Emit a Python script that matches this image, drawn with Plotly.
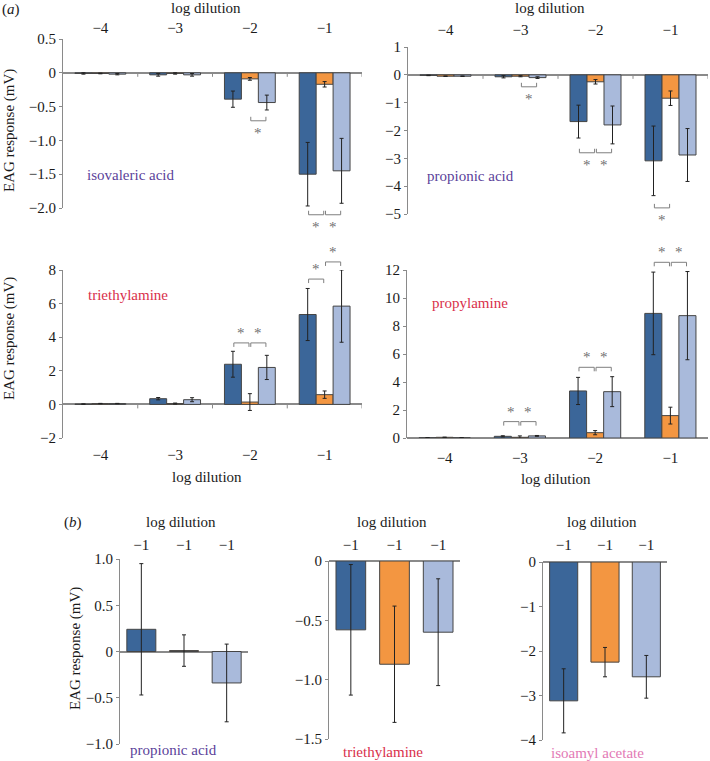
import plotly.graph_objects as go

W, H = 710, 761

# ---------------- data ----------------
dilutions = ["−4", "−3", "−2", "−1"]
b_dilutions = ["−1", "−1", "−1"]
bar_colors = ["#3B6699", "#F39641", "#A9BADB"]

# (a) isovaleric acid
iso_dark = [-0.01, -0.03, -0.39, -1.50]
iso_dark_err = [0.01, 0.02, 0.12, 0.47]
iso_orange = [-0.01, -0.01, -0.09, -0.17]
iso_orange_err = [0.005, 0.01, 0.02, 0.04]
iso_light = [-0.02, -0.03, -0.44, -1.45]
iso_light_err = [0.01, 0.02, 0.11, 0.48]

# (a) propionic acid
prop_dark = [-0.02, -0.07, -1.68, -3.09]
prop_dark_err = [0.01, 0.04, 0.59, 1.25]
prop_orange = [-0.05, -0.05, -0.25, -0.84]
prop_orange_err = [0.01, 0.02, 0.08, 0.26]
prop_light = [-0.05, -0.10, -1.80, -2.88]
prop_light_err = [0.01, 0.03, 0.68, 0.95]

# (a) triethylamine
tea_dark = [0.02, 0.34, 2.39, 5.35]
tea_dark_err = [0.01, 0.07, 0.77, 1.55]
tea_orange = [0.05, 0.05, 0.14, 0.58]
tea_orange_err = [0.01, 0.03, 0.50, 0.22]
tea_light = [0.05, 0.28, 2.20, 5.85]
tea_light_err = [0.01, 0.12, 0.72, 2.15]

# (a) propylamine
pa_dark = [0.02, 0.12, 3.36, 8.90]
pa_dark_err = [0.01, 0.04, 0.97, 2.95]
pa_orange = [0.05, 0.05, 0.38, 1.60]
pa_orange_err = [0.01, 0.10, 0.15, 0.60]
pa_light = [0.02, 0.15, 3.31, 8.74]
pa_light_err = [0.01, 0.03, 1.07, 3.15]

# (b)
b_prop = [0.24, 0.01, -0.34]
b_prop_err = [0.71, 0.17, 0.42]
b_tea = [-0.58, -0.87, -0.60]
b_tea_err = [0.55, 0.49, 0.45]
b_iso = [-3.12, -2.25, -2.58]
b_iso_err = [0.72, 0.33, 0.48]

# significance brackets: (group, left bar of pair, level)
iso_sig = [(2, 1, -0.71), (3, 0, -2.10), (3, 1, -2.10)]
prop_sig = [(1, 1, -0.43), (2, 0, -2.80), (2, 1, -2.80), (3, 0, -4.78)]
tea_sig = [(2, 0, 3.66), (2, 1, 3.66), (3, 0, 7.46), (3, 1, 8.48)]
pa_sig = [(1, 0, 1.17), (1, 1, 1.17), (2, 0, 5.05), (2, 1, 5.05), (3, 0, 12.55), (3, 1, 12.55)]

# y ticks
iso_ticks = [-2.0, -1.5, -1.0, -0.5, 0, 0.5]
iso_ticktext = ["−2.0", "−1.5", "−1.0", "−0.5", "0", "0.5"]
prop_ticks = [-5, -4, -3, -2, -1, 0, 1]
prop_ticktext = ["−5", "−4", "−3", "−2", "−1", "0", "1"]
tea_ticks = [-2, 0, 2, 4, 6, 8]
tea_ticktext = ["−2", "0", "2", "4", "6", "8"]
pa_ticks = [0, 2, 4, 6, 8, 10, 12]
pa_ticktext = ["0", "2", "4", "6", "8", "10", "12"]
bprop_ticks = [-1.0, -0.5, 0, 0.5, 1.0]
bprop_ticktext = ["−1.0", "−0.5", "0", "0.5", "1.0"]
btea_ticks = [-1.5, -1.0, -0.5, 0]
btea_ticktext = ["−1.5", "−1.0", "−0.5", "0"]
biso_ticks = [-4, -3, -2, -1, 0]
biso_ticktext = ["−4", "−3", "−2", "−1", "0"]

# ---------------- styling / layout ----------------
FONT = "Liberation Serif, Times New Roman, Times, serif"
TXT = "#1a1a1a"
AX = "#8a8a8a"
SIG = "#7f7f7f"
PURPLE = "#5B3F9A"
RED = "#D9304B"
PINK = "#E37AB5"
BARGAP = 0.32

panels = [
    dict(kind="a", series=[(iso_dark, iso_dark_err), (iso_orange, iso_orange_err), (iso_light, iso_light_err)],
         yr=[-2.0, 0.5], ticks=iso_ticks, ticktext=iso_ticktext, box=(63, 362, 39, 208), side="top", standoff=2,
         sig=iso_sig, label="isovaleric acid", lcol=PURPLE, lpos=(131, 175)),
    dict(kind="a", series=[(prop_dark, prop_dark_err), (prop_orange, prop_orange_err), (prop_light, prop_light_err)],
         yr=[-5, 1], ticks=prop_ticks, ticktext=prop_ticktext, box=(408, 708, 47, 214), side="top", standoff=8,
         sig=prop_sig, label="propionic acid", lcol=PURPLE, lpos=(470, 176)),
    dict(kind="a", series=[(tea_dark, tea_dark_err), (tea_orange, tea_orange_err), (tea_light, tea_light_err)],
         yr=[-2, 8], ticks=tea_ticks, ticktext=tea_ticktext, box=(63, 362, 270, 438), side="bottom", standoff=6,
         sig=tea_sig, label="triethylamine", lcol=RED, lpos=(128, 295)),
    dict(kind="a", series=[(pa_dark, pa_dark_err), (pa_orange, pa_orange_err), (pa_light, pa_light_err)],
         yr=[0, 12], ticks=pa_ticks, ticktext=pa_ticktext, box=(407, 708, 270, 438), side="bottom", standoff=9,
         sig=pa_sig, label="propylamine", lcol=RED, lpos=(470, 303)),
    dict(kind="b", series=(b_prop, b_prop_err),
         yr=[-1, 1], ticks=bprop_ticks, ticktext=bprop_ticktext, box=(120, 248, 559, 744), side="top", standoff=5,
         label="propionic acid", lcol=PURPLE, lpos=(173, 750)),
    dict(kind="b", series=(b_tea, b_tea_err),
         yr=[-1.5, 0], ticks=btea_ticks, ticktext=btea_ticktext, box=(329, 460, 561, 739), side="top", standoff=7,
         label="triethylamine", lcol=RED, lpos=(383, 752)),
    dict(kind="b", series=(b_iso, b_iso_err),
         yr=[-4, 0], ticks=biso_ticks, ticktext=biso_ticktext, box=(543, 667, 562, 740), side="top", standoff=8,
         label="isoamyl acetate", lcol=PINK, lpos=(597, 753)),
]

fig = go.Figure()
layout = {}
annotations = []
shapes = []


def fx(p):
    return p / W


def fy(p):
    return 1 - p / H


for i, p in enumerate(panels, start=1):
    xa = "x" if i == 1 else f"x{i}"
    ya = "y" if i == 1 else f"y{i}"
    xk = "xaxis" if i == 1 else f"xaxis{i}"
    yk = "yaxis" if i == 1 else f"yaxis{i}"
    x0p, x1p, y0p, y1p = p["box"]

    if p["kind"] == "a":
        pos = list(range(len(dilutions)))
        for k, (vals, errs) in enumerate(p["series"]):
            fig.add_trace(go.Bar(
                x=pos, y=vals, xaxis=xa, yaxis=ya, offsetgroup=str(k),
                marker=dict(color=bar_colors[k], line=dict(color="#454545", width=1)),
                error_y=dict(type="data", array=errs, visible=True, color="#222222", thickness=1, width=2),
                showlegend=False,
            ))
        xrange = [-0.5, len(dilutions) - 0.5]
        tickt = dilutions
        # boundary tick marks on the zero line
        for g in pos:
            shapes.append(dict(type="line", xref=xa, yref=ya, x0=g + 0.5, x1=g + 0.5,
                               ysizemode="pixel", yanchor=0, y0=0, y1=-4,
                               line=dict(color=AX, width=1)))
        # significance brackets (axis-domain coordinates so they may sit outside the range)
        bw = (1 - BARGAP) / 3
        ylo, yhi = p["yr"]
        xlo, xhi = xrange
        hpx = y1p - y0p

        def dx(v):
            return (v - xlo) / (xhi - xlo)

        def dy(v):
            return (v - ylo) / (yhi - ylo)

        for (g, k, lvl) in p["sig"]:
            xl = dx(g + (k - 1) * bw + 0.012)
            xr = dx(g + k * bw - 0.012)
            up = lvl > 0
            yb = dy(lvl)
            t = (-4 if up else 4) / hpx
            shapes.append(dict(type="path", xref=f"{xa} domain", yref=f"{ya} domain",
                               path=f"M {xl} {yb + t} L {xl} {yb} L {xr} {yb} L {xr} {yb + t}",
                               line=dict(color=SIG, width=1)))
            annotations.append(dict(x=(xl + xr) / 2, y=yb, xref=f"{xa} domain", yref=f"{ya} domain",
                                    text="*", showarrow=False, xanchor="center", yanchor="middle",
                                    yshift=(10 if up else -12), opacity=0.99,
                                    font=dict(family=FONT, size=15, color="#6f6f6f")))
    else:
        vals, errs = p["series"]
        pos = list(range(len(b_dilutions)))
        fig.add_trace(go.Bar(
            x=pos, y=vals, xaxis=xa, yaxis=ya,
            marker=dict(color=bar_colors, line=dict(color="#454545", width=1)),
            error_y=dict(type="data", array=errs, visible=True, color="#222222", thickness=1, width=2),
            showlegend=False,
        ))
        xrange = [-0.5, len(b_dilutions) - 0.5]
        tickt = b_dilutions

    layout[xk] = dict(
        domain=[fx(x0p), fx(x1p)], anchor=ya, range=xrange, side=p["side"],
        tickvals=list(range(len(tickt))), ticktext=tickt, showline=False, ticks="",
        showgrid=False, zeroline=False, ticklabelstandoff=p["standoff"], automargin=False,
        tickfont=dict(family=FONT, size=15, color=TXT),
    )
    layout[yk] = dict(
        domain=[fy(y1p), fy(y0p)], anchor=xa, range=p["yr"],
        tickvals=p["ticks"], ticktext=p["ticktext"], showline=True, linecolor=AX, linewidth=1,
        ticks="outside", ticklen=3, tickcolor=AX, showgrid=False, automargin=False,
        zeroline=True, zerolinecolor=AX, zerolinewidth=1.5,
        tickfont=dict(family=FONT, size=15, color=TXT),
    )
    annotations.append(dict(x=fx(p["lpos"][0]), y=fy(p["lpos"][1]), xref="paper", yref="paper",
                            text=p["label"], showarrow=False, xanchor="center", yanchor="middle",
                            font=dict(family=FONT, size=15, color=p["lcol"])))

# axis titles
for (xp, yp) in [(206, 8), (550, 8), (207, 477), (556, 479), (181, 522), (392, 522), (602, 522)]:
    annotations.append(dict(x=fx(xp), y=fy(yp), xref="paper", yref="paper", text="log dilution",
                            showarrow=False, xanchor="center", yanchor="middle",
                            font=dict(family=FONT, size=15, color=TXT)))
for (xp, yp) in [(9, 131), (9, 339), (75, 649)]:
    annotations.append(dict(x=fx(xp), y=fy(yp), xref="paper", yref="paper", text="EAG response (mV)",
                            showarrow=False, textangle=-90, xanchor="center", yanchor="middle",
                            font=dict(family=FONT, size=15, color=TXT)))
annotations.append(dict(x=fx(11), y=fy(9), xref="paper", yref="paper", text="(<i>a</i>)", showarrow=False,
                        xanchor="center", yanchor="middle", font=dict(family=FONT, size=15, color=TXT)))
annotations.append(dict(x=fx(73), y=fy(522), xref="paper", yref="paper", text="(<i>b</i>)", showarrow=False,
                        xanchor="center", yanchor="middle", font=dict(family=FONT, size=15, color=TXT)))

fig.update_layout(
    width=W, height=H, autosize=False,
    margin=dict(l=0, r=0, t=0, b=0, autoexpand=False),
    paper_bgcolor="white", plot_bgcolor="white",
    barmode="group", bargap=BARGAP, bargroupgap=0,
    showlegend=False,
    font=dict(family=FONT, size=15, color=TXT),
    annotations=annotations, shapes=shapes,
    **layout,
)

fig.write_html(
    "out.html",
    config={"displayModeBar": False},
    post_script="document.body.style.margin='0';document.body.style.overflow='hidden';",
)
